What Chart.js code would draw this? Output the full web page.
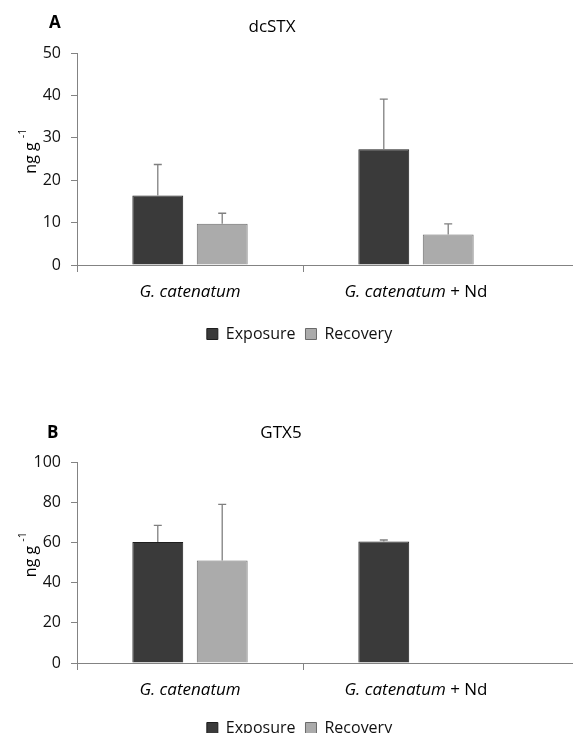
<!DOCTYPE html>
<html lang="en">
  <head>
    <meta charset="UTF-8" />
    <title>dcSTX and GTX5</title>
    <script src="https://cdn.jsdelivr.net/npm/chart.js"></script>
    <style>
      html, body { margin: 0; padding: 0; background: #fff; overflow: hidden; }
      body { width: 573px; height: 733px; position: relative; }
      .panel { position: absolute; left: 0; width: 573px; }
    </style>
  </head>
  <body>
    <!-- Panel A -->
    <div class="panel" style="top: 0; height: 366px;">
      <canvas id="chartA"></canvas>
    </div>
    <!-- Panel B -->
    <div class="panel" style="top: 366px; height: 390px;">
      <canvas id="chartB"></canvas>
    </div>

    <script>
// categories (second label gets a plain "+ Nd" suffix)
const categories = ['G. catenatum', 'G. catenatum + Nd'];
const seriesNames = ['Exposure', 'Recovery'];

// dcSTX (ng g-1)
const dcstxExposure = [16.4, 27.3];
const dcstxExposureErr = [7.3, 11.8];
const dcstxRecovery = [9.7, 7.2];
const dcstxRecoveryErr = [2.5, 2.5];
const dcstxTicks = [0, 10, 20, 30, 40, 50];

// GTX5 (ng g-1)
const gtx5Exposure = [60.2, 60.5];
const gtx5ExposureErr = [8.3, 0.7];
const gtx5Recovery = [51.0, null];
const gtx5RecoveryErr = [27.9, null];
const gtx5Ticks = [0, 20, 40, 60, 80, 100];

const FONT = "'Open Sans', 'Liberation Sans', sans-serif";
const AXIS = '#838383';

// error bars, panel letter, title, y title, category labels
const extrasPlugin = {
  id: 'extras',
  afterLayout(chart) {
    // legend sits a bit right of the canvas centre in the original
    const lg = chart.legend;
    const dx = chart.options.plugins.extras.legendShift;
    lg.left += dx;
    lg.right += dx;
  },
  afterDatasetsDraw(chart) {
    const ctx = chart.ctx;
    const x = chart.scales.x, y = chart.scales.y;
    const area = chart.chartArea;
    const o = chart.options.plugins.extras;

    ctx.save();
    // x axis line runs on to the right edge
    ctx.strokeStyle = AXIS;
    ctx.lineWidth = 1;
    ctx.beginPath();
    ctx.moveTo(area.right, y.getPixelForValue(0) + 0.5);
    ctx.lineTo(chart.width, y.getPixelForValue(0) + 0.5);
    ctx.stroke();

    // one-sided error bars
    ctx.strokeStyle = '#7f7f7f';
    ctx.lineWidth = 1.3;
    chart.data.datasets.forEach((ds, di) => {
      const meta = chart.getDatasetMeta(di);
      meta.data.forEach((bar, i) => {
        const v = ds.data[i], e = ds.err[i];
        if (v == null || e == null) return;
        const top = y.getPixelForValue(v + e);
        ctx.beginPath();
        ctx.moveTo(bar.x, bar.y);
        ctx.lineTo(bar.x, top);
        ctx.moveTo(bar.x - 4, top);
        ctx.lineTo(bar.x + 4, top);
        ctx.stroke();
      });
    });

    ctx.fillStyle = '#000';
    // panel letter
    ctx.font = 'bold 17px ' + FONT;
    ctx.textAlign = 'left';
    ctx.textBaseline = 'middle';
    ctx.fillText(o.letter, o.letterX, o.letterY);
    // title
    ctx.font = '17px ' + FONT;
    ctx.textAlign = 'center';
    ctx.fillText(o.title, o.titleX, o.titleY);

    // y axis title: ng g -1 (superscript)
    ctx.save();
    ctx.translate(31, (area.top + area.bottom) / 2 - 8);
    ctx.rotate(-Math.PI / 2);
    const base = 'ng g ';
    ctx.font = '16px ' + FONT;
    const wBase = ctx.measureText(base).width;
    ctx.font = '11px ' + FONT;
    const wSup = ctx.measureText('-1').width;
    const start = -(wBase + wSup) / 2;
    ctx.textAlign = 'left';
    ctx.textBaseline = 'middle';
    ctx.font = '16px ' + FONT;
    ctx.fillText(base, start, 0);
    ctx.font = '11px ' + FONT;
    ctx.fillText('-1', start + wBase, -8);
    ctx.restore();

    // category labels: italic species name, upright "+ Nd"
    const ly = area.bottom + 27;
    ctx.textBaseline = 'middle';
    ctx.textAlign = 'left';
    categories.forEach((label, i) => {
      const cx = x.getPixelForValue(i);
      const parts = label.split(' + ');
      const italic = 'italic 17px ' + FONT, plain = '17px ' + FONT;
      ctx.font = italic;
      const w1 = ctx.measureText(parts[0]).width;
      let w2 = 0;
      if (parts[1]) {
        ctx.font = plain;
        w2 = ctx.measureText(' + ' + parts[1]).width;
      }
      const sx = cx - (w1 + w2) / 2;
      ctx.font = italic;
      ctx.fillText(parts[0], sx, ly);
      if (parts[1]) {
        ctx.font = plain;
        ctx.fillText(' + ' + parts[1], sx + w1, ly);
      }
    });
    ctx.restore();
  }
};

function makeChart(id, exposure, exposureErr, recovery, recoveryErr, ticks, extra, pad, xHeight) {
  return new Chart(document.getElementById(id), {
    type: 'bar',
    data: {
      labels: categories,
      datasets: [
        {
          label: seriesNames[0],
          data: exposure,
          err: exposureErr,
          backgroundColor: '#3a3a3a',
          borderColor: '#1e1e1e',
          borderWidth: 1
        },
        {
          label: seriesNames[1],
          data: recovery,
          err: recoveryErr,
          backgroundColor: '#ababab',
          borderColor: '#6a6a6a',
          borderWidth: 1
        }
      ]
    },
    options: {
      responsive: true,
      maintainAspectRatio: false,
      animation: false,
      categoryPercentage: 0.57,
      barPercentage: 0.79,
      layout: { padding: pad },
      scales: {
        x: {
          grid: {
            offset: true,
            drawOnChartArea: false,
            drawTicks: true,
            tickLength: 7,
            // no tick mark after the last category
            color: (c) => (c.tick ? AXIS : 'rgba(0,0,0,0)')
          },
          border: { color: AXIS, width: 1 },
          ticks: { display: false },
          afterFit: (s) => { s.height = xHeight; }
        },
        y: {
          min: ticks[0],
          max: ticks[ticks.length - 1],
          grid: { drawOnChartArea: false, drawTicks: true, tickLength: 6, color: AXIS },
          border: { color: AXIS, width: 1 },
          ticks: {
            stepSize: ticks[1] - ticks[0],
            autoSkip: false,
            color: '#111',
            padding: 10,
            font: { family: FONT, size: 16 }
          },
          afterFit: (s) => { s.width = 77; }
        }
      },
      plugins: {
        title: { display: false },
        tooltip: { enabled: false },
        legend: {
          position: 'bottom',
          labels: {
            color: '#111',
            boxWidth: 11,
            boxHeight: 11,
            padding: 10,
            font: { family: FONT, size: 16 }
          }
        },
        extras: extra
      }
    },
    plugins: [extrasPlugin]
  });
}

makeChart('chartA', dcstxExposure, dcstxExposureErr, dcstxRecovery, dcstxRecoveryErr, dcstxTicks,
  { letter: 'A', letterX: 49, letterY: 23, title: 'dcSTX', titleX: 272, titleY: 27, legendShift: 35 },
  { top: 53, left: 0, right: 44, bottom: 14 }, 51);

makeChart('chartB', gtx5Exposure, gtx5ExposureErr, gtx5Recovery, gtx5RecoveryErr, gtx5Ticks,
  { letter: 'B', letterX: 47, letterY: 67, title: 'GTX5', titleX: 281, titleY: 67, legendShift: 35 },
  { top: 96, left: 0, right: 44, bottom: 10 }, 47);
    </script>
  </body>
</html>
